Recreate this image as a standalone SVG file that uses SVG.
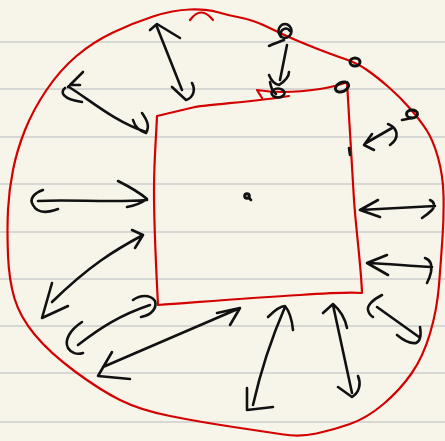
<svg xmlns="http://www.w3.org/2000/svg" width="445" height="441" viewBox="0 0 445 441">
<style>
.rule{stroke:#d7d7d4;stroke-width:2;fill:none}
.red{stroke:#d40000;stroke-width:2.2;fill:none;stroke-linecap:round;stroke-linejoin:round}
.ink{stroke:#111;stroke-width:2.6;fill:none;stroke-linecap:round;stroke-linejoin:round}
.ring{stroke:#111;stroke-width:3;fill:none}
</style>
<rect width="445" height="441" fill="#f7f5ea"/>
<g id="paper-lines">
<path class="rule" d="M0,42H445M0,89H445M0,137H445M0,184H445M0,232H445M0,279H445M0,326H445M0,373H445M0,422H445"/>
</g>
<g id="outer-region">
<path class="red" d="M13,170 Q17,150 25,130 Q33,110 46.5,90 Q60,70 76.5,56 Q93,42 113,32.5 Q133,23 153,16.5 Q173,10 190,9.5 Q207,9 217,12 Q227,15 240,17.5 Q253,20 266.5,26.5 Q280,33 290,37.5 Q300,42 316.5,48.5 Q333,55 345,59 Q357,63 367,70 Q377,77 388.5,87 Q400,97 410,108.5 Q420,120 426.5,130 Q433,140 438,157.5 Q443,175 443.5,195 Q444,215 442.5,237.5 Q441,260 439,285 Q437,310 430,333.5 Q423,357 411.5,373.5 Q400,390 383.5,404 Q367,418 350,424 Q333,430 316.5,433.5 Q300,437 283.5,434.5 Q267,432 233.5,427 Q200,422 170,416 Q140,410 120,400 Q100,390 75,371.5 Q50,353 35,335 Q20,317 14.5,298.5 Q9,280 8,255 Q7,230 8,210 Q9,190 13,170 Z"/>
<path class="red" d="M190,20 Q201,5 213,20"/>
</g>
<g id="square">
<path class="red" d="M289,96 C260,101 215,104 195,107 L157,116 C156,140 154,160 154,190 C154,230 156,265 158,305 C200,302 250,298 300,295 C330,293 350,292 362,293 C361,265 356,230 354,200 C352,165 350,130 347,82"/>
<path class="red" d="M262,98 L257,90 C275,93 300,92 320,89 C332,87 340,85 347,82"/>
</g>
<g id="marks">
<circle class="ring" cx="247" cy="196" r="2.3"/>
<path class="ink" d="M249,198 L251,200" stroke-width="2"/>
<ellipse class="ink" cx="285" cy="31" rx="6.5" ry="7"/>
<path class="ink" d="M281,37 C279,29 287,26 290,31"/>
<path class="ink" d="M269,46 C273,44 279,42 284,40"/>
<ellipse class="ink" cx="278" cy="93" rx="6.5" ry="4.5"/>
<path class="ink" d="M270,82 C271,88 273,92 276,94"/>
<ellipse class="ring" cx="342" cy="87" rx="7" ry="4.5" transform="rotate(-25 342 87)"/>
<ellipse class="ring" cx="355" cy="62" rx="5" ry="4"/>
<ellipse class="ring" cx="412" cy="114" rx="5.5" ry="4"/>
<path class="ink" d="M402,120 L412,118"/>
<path class="ink" d="M349,148 L350,155" stroke-width="4"/>
</g>
<g id="connectors">
<path class="ink" d="M287,45 L280,80 M269,75 C271,80 274,84 279,85 M289,72 C289,77 285,81 279,85"/>
<path class="ink" d="M392,128 L366,143 M372,134 L364,145 L374,150 M388,124 C398,128 400,138 390,145"/>
<path class="ink" d="M69,87 C90,100 115,122 146,132 M83,72 L68,87 M70,85 L80,85 M65,88 C60,92 62,99 82,102 M133,120 C135,127 139,131 146,133 M142,113 C147,120 150,126 146,133"/>
<path class="ink" d="M157,27 L182,90 M150,30 L157,24 L180,38 M172,87 L186,100 C193,98 196,90 192,83"/>
<path class="ink" d="M38,201 C70,199 110,203 147,200 M43,190 C34,193 29,199 33,205 C36,211 42,215 58,209 M118,181 C130,187 140,193 147,199 C140,204 133,206 127,207"/>
<path class="ink" d="M143,235 C115,250 90,265 52,302 M132,230 L143,235 L135,248 M52,283 L42,318 L68,306"/>
<path class="ink" d="M78,345 C100,328 120,315 150,305 M82,322 C70,330 64,340 68,348 C71,353 77,355 83,353 M133,300 C140,295 150,294 155,301 C157,308 152,315 141,317"/>
<path class="ink" d="M103,367 L240,308 M217,313 L240,308 L230,325 M112,352 L98,376 L130,379"/>
<path class="ink" d="M285,307 C275,330 262,365 253,405 M268,317 C275,310 280,306 285,306 C290,312 292,320 293,330 M247,388 L247,410 L273,407"/>
<path class="ink" d="M333,305 L352,393 M323,313 L333,304 C340,310 345,318 347,328 M338,387 L352,397 C360,392 361,383 358,376"/>
<path class="ink" d="M377,307 L419,337 M382,295 C372,300 367,306 368,310 C369,314 371,316 373,317 M397,335 C403,340 410,344 416,343 C421,341 421,333 420,327"/>
<path class="ink" d="M360,210 L435,206 M378,200 L360,210 L380,217 M430,200 C435,202 435,207 432,210 C428,214 425,216 422,218"/>
<path class="ink" d="M367,263 C390,264 410,266 432,267 M387,255 L367,263 L388,275 M425,258 C431,260 432,266 431,272 C430,277 428,281 427,283"/>
</g>
</svg>
